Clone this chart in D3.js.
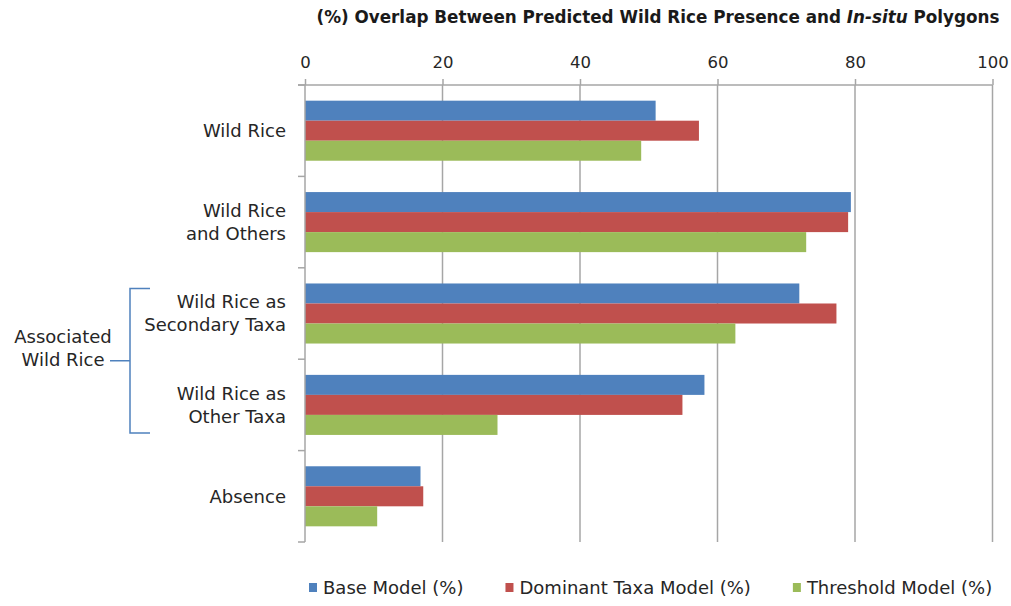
<!DOCTYPE html>
<html>
<head>
<meta charset="utf-8">
<script src="https://cdn.jsdelivr.net/npm/d3@7"></script>
<style>
  body { margin: 0; background: #fff; }
  text { font-family: "DejaVu Sans", sans-serif; }
</style>
</head>
<body>
<svg id="chart" width="1011" height="606"></svg>
<script>
var categories = ["Wild Rice", "Wild Rice|and Others", "Wild Rice as|Secondary Taxa", "Wild Rice as|Other Taxa", "Absence"];
var seriesNames = ["Base Model (%)", "Dominant Taxa Model (%)", "Threshold Model (%)"];
var baseModel = [51.0, 79.4, 71.9, 58.1, 16.8];
var dominantTaxaModel = [57.3, 79.0, 77.3, 54.9, 17.2];
var thresholdModel = [48.9, 72.9, 62.6, 28.0, 10.5];
var xTicks = [0, 20, 40, 60, 80, 100];
var colors = ["#4f81bd", "#c0504d", "#9bbb59"];

var series = [baseModel, dominantTaxaModel, thresholdModel];
var svg = d3.select("#chart");

var x = d3.scaleLinear().domain([0, 100]).range([305, 992.5]);
var y = d3.scaleBand().domain(categories).range([85, 542])
  .paddingInner(0.343).paddingOuter(0.1715);
var inner = d3.scaleBand().domain(d3.range(seriesNames.length)).range([0, y.bandwidth()]);

var axisColor = "#a6a6a6";
var textColor = "#262626";

// gridlines
svg.append("g")
  .selectAll("line")
  .data(xTicks.slice(1))
  .enter()
  .append("line")
  .attr("x1", function (d) { return x(d); })
  .attr("x2", function (d) { return x(d); })
  .attr("y1", 85)
  .attr("y2", 542)
  .attr("stroke", axisColor)
  .attr("stroke-width", 1.5);

// top axis
var xAxis = svg.append("g")
  .attr("transform", "translate(0,85)")
  .call(d3.axisTop(x).tickValues(xTicks).tickSize(6).tickPadding(11));
xAxis.select(".domain").remove();
xAxis.selectAll(".tick line").attr("stroke", axisColor).attr("stroke-width", 1.5);
xAxis.selectAll(".tick text")
  .style("font-size", "16.5px")
  .attr("fill", textColor);
svg.append("line")
  .attr("x1", 298).attr("x2", x(100))
  .attr("y1", 85).attr("y2", 85)
  .attr("stroke", axisColor).attr("stroke-width", 1.5);

// bars
var groups = svg.append("g")
  .selectAll("g")
  .data(categories)
  .enter()
  .append("g")
  .attr("transform", function (d) { return "translate(0," + y(d) + ")"; });

groups.selectAll("rect")
  .data(function (d, i) {
    return series.map(function (s, j) { return { s: j, v: s[i] }; });
  })
  .enter()
  .append("rect")
  .attr("x", x(0))
  .attr("y", function (d) { return inner(d.s); })
  .attr("width", function (d) { return x(d.v) - x(0); })
  .attr("height", inner.bandwidth())
  .attr("fill", function (d) { return colors[d.s]; });

// left axis with ticks between categories
svg.append("line")
  .attr("x1", x(0)).attr("x2", x(0))
  .attr("y1", 85).attr("y2", 542)
  .attr("stroke", axisColor).attr("stroke-width", 1.5);
svg.append("g")
  .selectAll("line")
  .data(d3.range(categories.length + 1))
  .enter()
  .append("line")
  .attr("x1", 298).attr("x2", x(0))
  .attr("y1", function (i) { return y.range()[0] + i * y.step(); })
  .attr("y2", function (i) { return y.range()[0] + i * y.step(); })
  .attr("stroke", axisColor).attr("stroke-width", 1.5);

// category labels
var lineH = 23;
svg.append("g")
  .selectAll("text")
  .data(categories)
  .enter()
  .append("text")
  .attr("text-anchor", "end")
  .style("font-size", "18px")
  .attr("fill", textColor)
  .each(function (d) {
    var lines = d.split("|");
    var cy = y(d) + y.bandwidth() / 2;
    var t = d3.select(this);
    lines.forEach(function (l, k) {
      t.append("tspan")
        .attr("x", 286)
        .attr("y", cy + (k - (lines.length - 1) / 2) * lineH)
        .attr("dy", "0.35em")
        .text(l);
    });
  });

// bracket for associated wild rice
var bTop = y(categories[2]) + 5;
var bBot = y(categories[3]) + y.bandwidth() - 2;
var bMid = (bTop + bBot) / 2;
svg.append("path")
  .attr("d", "M150," + bTop + "H130V" + bBot + "H150M130," + bMid + "H110")
  .attr("fill", "none")
  .attr("stroke", "#4f81bd")
  .attr("stroke-width", 1.5);
svg.append("text")
  .attr("text-anchor", "middle")
  .style("font-size", "18px")
  .attr("fill", textColor)
  .selectAll("tspan")
  .data(["Associated", "Wild Rice"])
  .enter()
  .append("tspan")
  .attr("x", 63)
  .attr("y", function (d, k) { return bMid - 24 + k * lineH; })
  .attr("dy", "0.35em")
  .text(function (d) { return d; });

// title
var title = svg.append("text")
  .attr("x", 658)
  .attr("y", 23)
  .attr("text-anchor", "middle")
  .style("font-size", "16.8px")
  .style("font-weight", "bold")
  .attr("fill", "#1a1a1a");
title.append("tspan").text("(%) Overlap Between Predicted Wild Rice Presence and ");
title.append("tspan").style("font-style", "italic").text("In-situ");
title.append("tspan").text(" Polygons");

// legend
var legend = svg.append("g").attr("transform", "translate(309,588)");
var lx = 0;
seriesNames.forEach(function (name, i) {
  var item = legend.append("g").attr("transform", "translate(" + lx + ",0)");
  item.append("rect")
    .attr("x", 0).attr("y", -5)
    .attr("width", 8).attr("height", 9)
    .attr("fill", colors[i]);
  var t = item.append("text")
    .attr("x", 14)
    .attr("dy", "0.35em")
    .style("font-size", "18px")
    .attr("fill", textColor)
    .text(name);
  lx += 14 + t.node().getComputedTextLength() + 42;
});
</script>
</body>
</html>
